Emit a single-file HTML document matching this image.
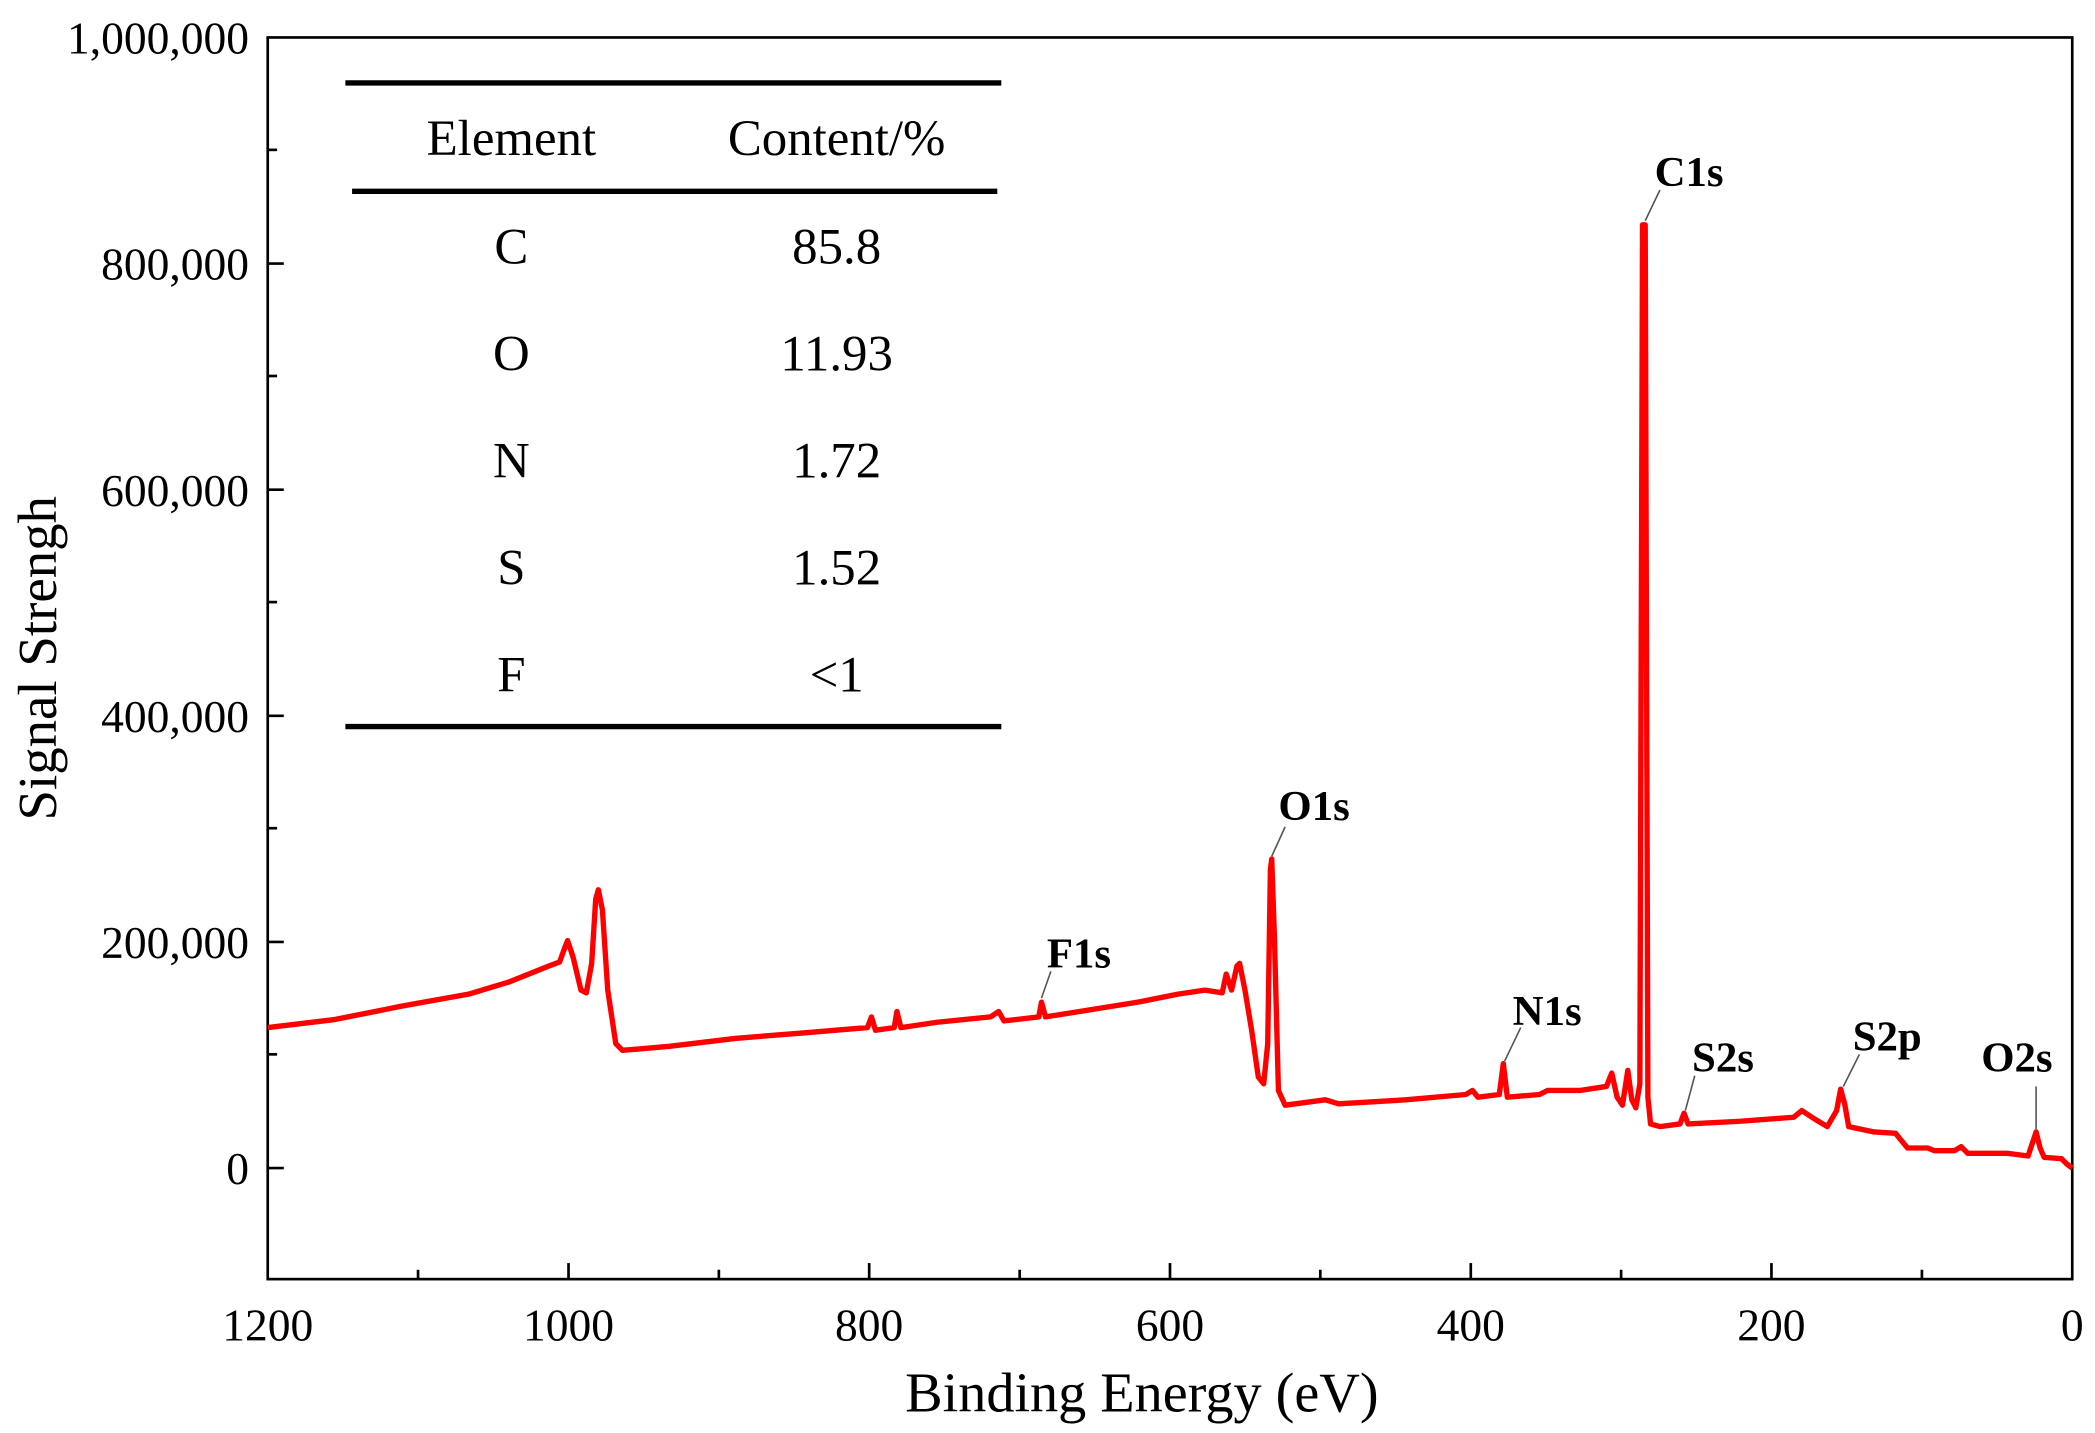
<!DOCTYPE html>
<html><head><meta charset="utf-8"><style>
html,body{margin:0;padding:0;background:#fff;}
svg{display:block;}
text{font-family:"Liberation Serif",serif;fill:#000;}
</style></head><body>
<svg width="2095" height="1433" viewBox="0 0 1565 1071" preserveAspectRatio="none" xmlns="http://www.w3.org/2000/svg">
<rect width="1565" height="1071" fill="#fff"/>
<rect x="200" y="28" width="1348" height="928" fill="none" stroke="#000" stroke-width="2"/>
<g stroke="#000" stroke-width="2">
<line x1="200" y1="197" x2="212" y2="197"/><line x1="200" y1="366" x2="212" y2="366"/>
<line x1="200" y1="535" x2="212" y2="535"/><line x1="200" y1="704" x2="212" y2="704"/>
<line x1="200" y1="873" x2="212" y2="873"/>
<line x1="200" y1="112" x2="207" y2="112"/><line x1="200" y1="281" x2="207" y2="281"/>
<line x1="200" y1="450" x2="207" y2="450"/><line x1="200" y1="619" x2="207" y2="619"/>
<line x1="200" y1="788" x2="207" y2="788"/>
<line x1="424.7" y1="956" x2="424.7" y2="944"/><line x1="649.3" y1="956" x2="649.3" y2="944"/>
<line x1="874" y1="956" x2="874" y2="944"/><line x1="1098.7" y1="956" x2="1098.7" y2="944"/>
<line x1="1323.3" y1="956" x2="1323.3" y2="944"/>
<line x1="312.3" y1="956" x2="312.3" y2="949"/><line x1="537" y1="956" x2="537" y2="949"/>
<line x1="761.7" y1="956" x2="761.7" y2="949"/><line x1="986.3" y1="956" x2="986.3" y2="949"/>
<line x1="1211" y1="956" x2="1211" y2="949"/><line x1="1435.7" y1="956" x2="1435.7" y2="949"/>
</g>
<g font-size="34" text-anchor="end">
<text x="186" y="40">1,000,000</text><text x="186" y="209">800,000</text>
<text x="186" y="378">600,000</text><text x="186" y="547">400,000</text>
<text x="186" y="716">200,000</text><text x="186" y="885">0</text>
</g>
<g font-size="34" text-anchor="middle">
<text x="200" y="1002">1200</text><text x="424.7" y="1002">1000</text>
<text x="649.3" y="1002">800</text><text x="874" y="1002">600</text>
<text x="1098.7" y="1002">400</text><text x="1323.3" y="1002">200</text>
<text x="1548" y="1002">0</text>
</g>
<text x="853" y="1055" font-size="42" text-anchor="middle">Binding Energy (eV)</text>
<text transform="translate(42,492) rotate(-90)" font-size="41" text-anchor="middle">Signal Strengh</text>
<g stroke="#000" stroke-width="4">
<line x1="258" y1="62" x2="748" y2="62"/><line x1="263" y1="143" x2="745" y2="143"/>
<line x1="258" y1="543" x2="748" y2="543"/>
</g>
<g font-size="38" text-anchor="middle">
<text x="382" y="116">Element</text><text x="625" y="116">Content/%</text>
<text x="382" y="197">C</text><text x="625" y="197">85.8</text>
<text x="382" y="277">O</text><text x="625" y="277">11.93</text>
<text x="382" y="357">N</text><text x="625" y="357">1.72</text>
<text x="382" y="437">S</text><text x="625" y="437">1.52</text>
<text x="382" y="517">F</text><text x="625" y="517">&lt;1</text>
</g>
<polyline fill="none" stroke="#ff0000" stroke-width="4" stroke-linejoin="round" points="
200,768 250,762 300,752 350,743 380,734 400,726 410,722 418,719 422,708 424,703 428,715 434,740 438,742 442,720 445,672 447,665 450,680 454,740 460,780 465,785 500,782 550,776 600,772 648,768 651,760 654,770 668,768 670,756 673,768 700,764 740,760 746,756 750,763 776,760 778,749 781,760 800,757 850,749 880,743 900,740 913,742 916,728 920,740 924,722 926,720 930,740 935,770 940,805 944,810 947,780 949,650 950,642 952,700 955,815 960,826 990,822 1000,825 1050,822 1095,818 1100,815 1104,820 1120,818 1123,795 1126,820 1150,818 1156,815 1180,815 1200,812 1204,802 1208,820 1212,826 1216,800 1219,822 1222,828 1225,810 1227,168 1229,168 1231,820 1233,840 1240,842 1255,840 1258,832 1261,840 1300,838 1340,835 1346,830 1355,836 1365,842 1372,830 1375,814 1378,825 1381,842 1400,846 1416,847 1420,852 1425,858 1440,858 1445,860 1460,860 1465,857 1470,862 1500,862 1515,864 1518,855 1521,846 1524,858 1527,865 1540,866 1544,870 1548,873"/>
<g stroke="#555" stroke-width="1.2">
<line x1="1240" y1="142" x2="1229" y2="165"/>
<line x1="960" y1="618" x2="950" y2="640"/>
<line x1="785" y1="726" x2="778" y2="746"/>
<line x1="1136" y1="768" x2="1124" y2="793"/>
<line x1="1266" y1="804" x2="1259" y2="830"/>
<line x1="1389" y1="788" x2="1377" y2="812"/>
<line x1="1521" y1="812" x2="1521" y2="844"/>
</g>
<g font-size="32" font-weight="bold">
<text x="1236" y="139">C1s</text>
<text x="955" y="613">O1s</text>
<text x="782" y="723">F1s</text>
<text x="1130" y="766">N1s</text>
<text x="1264" y="801">S2s</text>
<text x="1384" y="785">S2p</text>
<text x="1480" y="801">O2s</text>
</g>
</svg>
</body></html>
